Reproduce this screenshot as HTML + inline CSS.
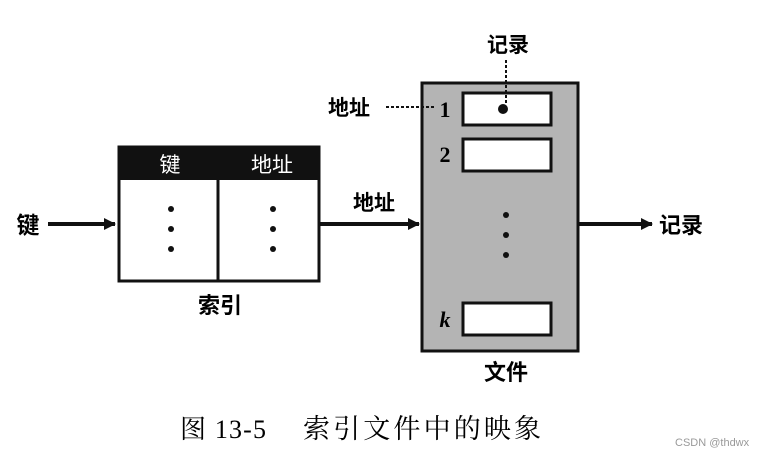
<!DOCTYPE html>
<html><head><meta charset="utf-8"><style>
body{margin:0;background:#fff;}
</style></head><body>
<svg width="759" height="455" viewBox="0 0 759 455" xmlns="http://www.w3.org/2000/svg" font-family="Liberation Serif, Noto Serif CJK SC, serif">
<defs><marker id="a" markerWidth="12" markerHeight="12" refX="11" refY="6" orient="auto" markerUnits="userSpaceOnUse"><path d="M0,0 L12,6 L0,12 Z" fill="#111"/></marker></defs>
<rect x="119" y="147" width="200" height="134" fill="#fff" stroke="#111" stroke-width="3"/>
<rect x="118" y="146" width="202" height="34" fill="#111"/>
<line x1="218" y1="180" x2="218" y2="281" stroke="#111" stroke-width="3"/>
<text x="170" y="172" font-size="21" fill="#fff" text-anchor="middle" style="font-family:'Noto Sans CJK SC',sans-serif">键</text>
<text x="272" y="172" font-size="21" fill="#fff" text-anchor="middle" style="font-family:'Noto Sans CJK SC',sans-serif">地址</text>
<g fill="#111"><circle cx="171" cy="209" r="3"/><circle cx="171" cy="229" r="3"/><circle cx="171" cy="249" r="3"/><circle cx="273" cy="209" r="3"/><circle cx="273" cy="229" r="3"/><circle cx="273" cy="249" r="3"/></g>
<text x="220" y="313" font-size="22" font-weight="bold" text-anchor="middle" style="font-family:'Noto Sans CJK SC',sans-serif">索引</text>
<text x="28" y="233" font-size="23" font-weight="bold" text-anchor="middle" style="font-family:'Noto Sans CJK SC',sans-serif">键</text>
<line x1="48" y1="224" x2="115" y2="224" stroke="#111" stroke-width="4" marker-end="url(#a)"/>
<line x1="320" y1="224" x2="419" y2="224" stroke="#111" stroke-width="4" marker-end="url(#a)"/>
<text x="374" y="210" font-size="21" font-weight="bold" text-anchor="middle" style="font-family:'Noto Sans CJK SC',sans-serif">地址</text>
<rect x="422" y="83" width="156" height="268" fill="#b4b4b4" stroke="#111" stroke-width="3"/>
<rect x="463" y="93" width="88" height="32" fill="#fff" stroke="#111" stroke-width="3"/>
<rect x="463" y="139" width="88" height="32" fill="#fff" stroke="#111" stroke-width="3"/>
<rect x="463" y="303" width="88" height="32" fill="#fff" stroke="#111" stroke-width="3"/>
<text x="445" y="117" font-size="22" font-weight="bold" text-anchor="middle">1</text>
<text x="445" y="162" font-size="22" font-weight="bold" text-anchor="middle">2</text>
<text x="445" y="327" font-size="22" font-weight="bold" font-style="italic" text-anchor="middle">k</text>
<circle cx="503" cy="109" r="5" fill="#111"/>
<line x1="506" y1="60" x2="506" y2="104" stroke="#111" stroke-width="2" stroke-dasharray="3,2"/>
<line x1="386" y1="107" x2="434" y2="107" stroke="#111" stroke-width="2" stroke-dasharray="3,2"/>
<text x="349" y="115" font-size="21" font-weight="bold" text-anchor="middle" style="font-family:'Noto Sans CJK SC',sans-serif">地址</text>
<text x="508" y="52" font-size="21" font-weight="bold" text-anchor="middle" style="font-family:'Noto Sans CJK SC',sans-serif">记录</text>
<g fill="#111"><circle cx="506" cy="215" r="3"/><circle cx="506" cy="235" r="3"/><circle cx="506" cy="255" r="3"/></g>
<line x1="578" y1="224" x2="652" y2="224" stroke="#111" stroke-width="4" marker-end="url(#a)"/>
<text x="681" y="233" font-size="22" font-weight="bold" text-anchor="middle" style="font-family:'Noto Sans CJK SC',sans-serif">记录</text>
<text x="506" y="380" font-size="22" font-weight="bold" text-anchor="middle" style="font-family:'Noto Sans CJK SC',sans-serif">文件</text>
<text x="180" y="438" font-size="26" textLength="86" style="font-family:'Liberation Serif','Noto Serif CJK SC',serif">图 13-5</text>
<text x="303" y="438" font-size="27" textLength="238" style="font-family:'Noto Serif CJK SC',serif">索引文件中的映象</text>
<text x="675" y="446" font-size="11" fill="#999" style="font-family:'Liberation Sans',sans-serif">CSDN @thdwx</text>
</svg>
</body></html>
